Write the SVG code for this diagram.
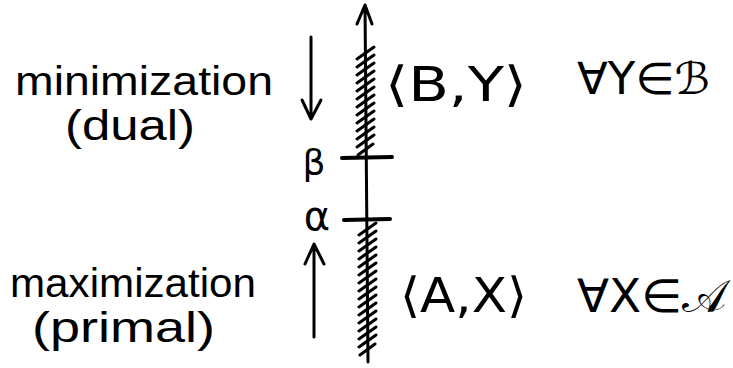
<svg xmlns="http://www.w3.org/2000/svg" width="733" height="368" viewBox="0 0 733 368">
<style>
.ln{fill:none;stroke:#000;stroke-width:3;stroke-linecap:round;stroke-linejoin:round}
.tk{fill:none;stroke:#000;stroke-width:4;stroke-linecap:round}
.hw{font-family:"Liberation Sans","DejaVu Sans",sans-serif;fill:#000}
.mt{font-family:"DejaVu Sans","Noto Sans",sans-serif;fill:#000}
</style>
<rect width="733" height="368" fill="#fff"/>
<g id="axis">
<path class="ln" d="M365 5 L368 362 M357 24 L365 5 L372 24"/>
<path class="ln" d="M357 59 l17 -12 M357 67 l17 -12 M357 75 l17 -12 M357 83 l17 -12 M357 91 l17 -12 M357 99 l17 -12 M357 107 l17 -12 M357 115 l17 -12 M357 123 l17 -12 M357 131 l17 -12 M357 139 l17 -12 M357 147 l17 -12 M358 155 l15 -11"/>
<path class="ln" d="M359 235 l17 -12 M359 243 l17 -12 M359 251 l17 -12 M359 259 l17 -12 M359 267 l17 -12 M359 275 l17 -12 M359 283 l17 -12 M359 291 l17 -12 M359 299 l17 -12 M359 307 l17 -12 M359 315 l17 -12 M359 323 l17 -12 M359 331 l17 -12 M359 339 l17 -12 M359 347 l17 -12 M360 355 l15 -11"/>
<path class="tk" d="M342 158 L392 157 M344 220 L390 219"/>
</g>
<g id="beta">
<text class="mt" x="314" y="175" font-size="36" text-anchor="middle">β</text>
</g>
<g id="alpha">
<text class="mt" x="317" y="230" font-size="40" text-anchor="middle">α</text>
</g>
<g id="arrows">
<path class="ln" d="M311 37 L311 119 M302 100 L311 119 L321 100"/>
<path class="ln" d="M314 337 L314 244 M305 264 L314 244 L324 264"/>
</g>
<g id="dual-label">
<text class="hw" x="15" y="95" font-size="40" textLength="258" lengthAdjust="spacingAndGlyphs">minimization</text>
<text class="hw" x="65" y="140" font-size="42" textLength="130" lengthAdjust="spacingAndGlyphs">(dual)</text>
</g>
<g id="primal-label">
<text class="hw" x="10" y="297" font-size="40" textLength="246" lengthAdjust="spacingAndGlyphs">maximization</text>
<text class="hw" x="32" y="342" font-size="42" textLength="183" lengthAdjust="spacingAndGlyphs">(primal)</text>
</g>
<g id="dual-set">
<text class="mt" x="385" y="101" font-size="48" textLength="142" lengthAdjust="spacingAndGlyphs">⟨B,Y⟩</text>
<text class="mt" x="577" y="94" font-size="44" textLength="133" lengthAdjust="spacingAndGlyphs">∀Y∈ℬ</text>
</g>
<g id="primal-set">
<text class="mt" x="400" y="312" font-size="48" textLength="127" lengthAdjust="spacingAndGlyphs">⟨A,X⟩</text>
<text class="mt" x="577" y="312" font-size="46" textLength="150" lengthAdjust="spacingAndGlyphs">∀X∈𝒜</text>
</g>
</svg>
